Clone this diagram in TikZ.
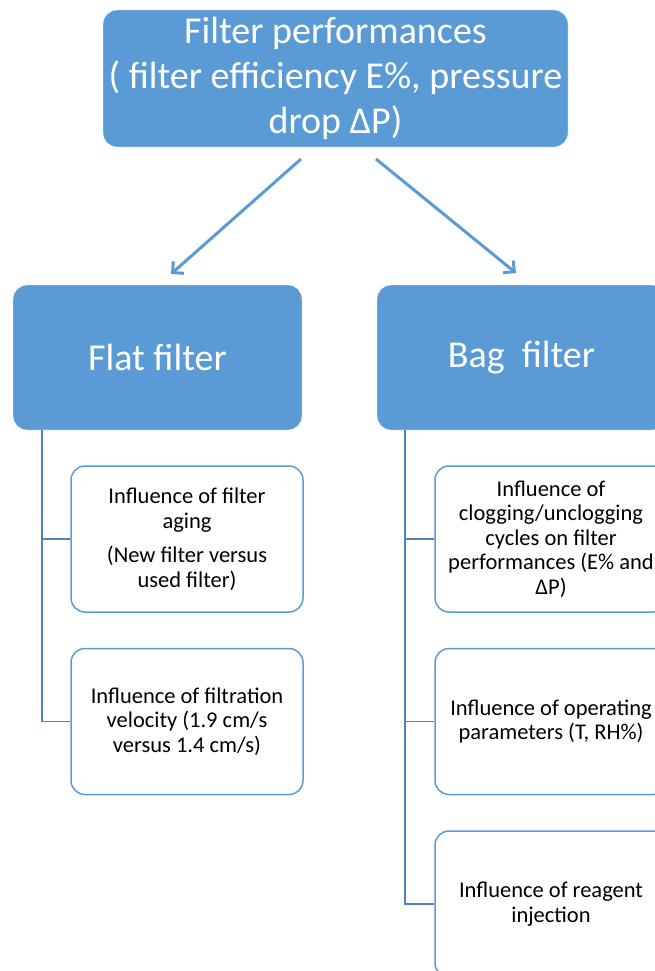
\documentclass[tikz,border=0pt]{standalone}
\usepackage{fontspec}
\setmainfont{Carlito}
\usetikzlibrary{arrows.meta}
\definecolor{officeblue}{HTML}{5B9BD5}
\definecolor{treeline}{HTML}{4F81BD}

\begin{document}
\begin{tikzpicture}[x=1pt,y=-1pt,
        headbox/.style={fill=officeblue, draw=white, rounded corners=14pt, text=white, align=center, inner sep=0pt, font=\fontsize{38}{45}\selectfont},
        leafbox/.style={draw=officeblue, line width=1.5pt, fill=white, rounded corners=14pt, align=center, inner sep=0pt, minimum width=232pt, minimum height=146pt, font=\fontsize{22.5}{24.5}\selectfont},
        branch/.style={treeline, line width=1.5pt},
        arr/.style={officeblue, line width=3pt, -{Straight Barb[length=8pt,width=16pt]}}]
        \useasboundingbox (0,0) rectangle (655,971);

        % Heads
        \node[headbox, minimum width=465pt, minimum height=137pt] (perf) at (335.5,78.5)
            {Filter performances\\( filter efficiency E\%, pressure\\drop ΔP)};
        \node[headbox, minimum width=289pt, minimum height=145pt] (flat) at (157.5,357.5) {Flat filter};
        \node[headbox, minimum width=289pt, minimum height=145pt] (bag) at (521.5,357.5) {Bag\ \ filter};

        % Arrows
        \coordinate (la) at (301,159);
        \coordinate (lb) at (171,274);
        \coordinate (ra) at (376,159);
        \coordinate (rb) at (516,273);
        \draw[arr] (la) -- (lb);
        \draw[arr] (ra) -- (rb);

        % Flat filter items
        \node[leafbox] (f1) at (187,539) {Influence of filter\\aging\\[10pt](New filter versus\\used filter)};
        \node[leafbox] (f2) at (187,721.5) {Influence of filtration\\velocity (1.9 cm/s\\versus 1.4 cm/s)};

        % Bag filter items
        \node[leafbox] (b1) at (551,539) {Influence of\\clogging/unclogging\\cycles on filter\\performances (E\% and\\ΔP)};
        \node[leafbox] (b2) at (551,721.5) {Influence of operating\\parameters (T, RH\%)};
        \node[leafbox] (b3) at (551,904) {Influence of reagent\\injection};

        % Tree lines
        \draw[branch] ([xshift=29pt]flat.south west) coordinate (ft) |- (f2.west);
        \draw[branch] (f1.west) -- (f1.west -| ft);
        \draw[branch] ([xshift=28pt]bag.south west) coordinate (bt) |- (b3.west);
        \foreach \n in {b1,b2}
            \draw[branch] (\n.west) -- (\n.west -| bt);
\end{tikzpicture}
\end{document}
